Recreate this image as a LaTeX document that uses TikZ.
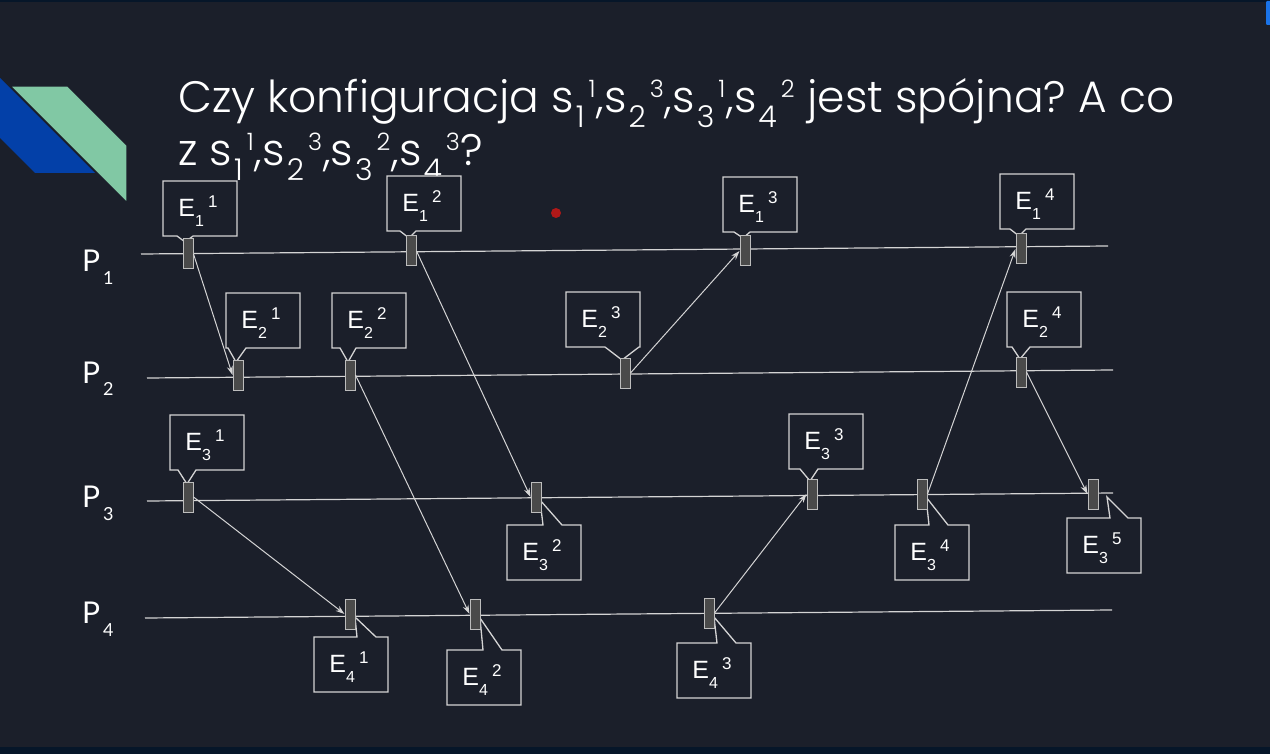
\documentclass[tikz,border=0pt]{standalone}
\usepackage{fontspec}
\setmainfont{Liberation Sans}
\newfontfamily\titlefont{Poppins Light}
\newfontfamily\latofont{Lato}
\usetikzlibrary{arrows.meta,calc}

\definecolor{bgdark}{HTML}{1B1F2A}
\definecolor{stripdark}{HTML}{061629}
\definecolor{accblue}{HTML}{0340A8}
\definecolor{accgreen}{HTML}{81C8A4}
\definecolor{tabblue}{HTML}{1A73E8}
\definecolor{inkline}{HTML}{D4D4D4}
\definecolor{eventfill}{HTML}{4A4A4A}
\definecolor{eventdraw}{HTML}{BDBDBD}
\definecolor{dotred}{HTML}{B01818}

% title indices: large subscript, smaller superscript
\newcommand\tsub[1]{\hspace{2pt}\raisebox{-15pt}{\fontsize{30}{30}\selectfont #1}}
\newcommand\tsup[1]{\hspace{4pt}\raisebox{15pt}{\fontsize{24}{24}\selectfont #1}\hspace{1pt}}
% event label E_i^k
\newcommand\evlab[2]{E\raisebox{-10pt}{\fontsize{16}{16}\selectfont #1}\hspace{4pt}\raisebox{9pt}{\fontsize{17}{17}\selectfont #2}}
% process label P_i
\newcommand\proclab[1]{P\hspace{3pt}\raisebox{-13pt}{\fontsize{18}{18}\selectfont #1}}

\tikzset{
  timeline/.style={draw=inkline, line width=1.2pt},
  event/.style={rectangle, minimum width=10pt, minimum height=30pt, inner sep=0pt,
                fill=eventfill, draw=eventdraw, line width=1pt},
  callout/.style={draw=inkline, line width=1.3pt, fill=bgdark, line join=miter},
  evtext/.style={text=white, font=\fontsize{25}{25}\selectfont, inner sep=0pt},
  proctext/.style={text=white, font=\latofont\fontsize{30}{30}\selectfont, inner sep=0pt, anchor=base west},
  msg/.style={draw=inkline, line width=1pt, -{Stealth[length=9pt,width=6pt]}},
  titletext/.style={text=white, font=\titlefont\fontsize{44}{44}\selectfont\frenchspacing, inner sep=0pt, anchor=base west},
}

% callout hanging above an event: name, left, top, base x1, base x2, tip, sub, sup
\newcommand\calldown[8]{%
  \draw[callout] (#2,#3) -- (#2+74,#3) -- (#2+74,#3+55) -- (#5,#3+55) -- (#6)
     -- (#4,#3+55) -- (#2,#3+55) -- cycle;
  \node[evtext] (#1) at (#2+35,#3+30) {\evlab{#7}{#8}};
}
% callout sitting below an event
\newcommand\callup[8]{%
  \draw[callout] (#2,#3) -- (#4,#3) -- (#6) -- (#5,#3) -- (#2+74,#3)
     -- (#2+74,#3+55) -- (#2,#3+55) -- cycle;
  \node[evtext] (#1) at (#2+35,#3+30) {\evlab{#7}{#8}};
}

\begin{document}
\begin{tikzpicture}[x=1pt,y=-1pt]
  % slide background
  \fill[bgdark] (0,0) rectangle (1270,754);
  \useasboundingbox (0,0) rectangle (1270,754);
  \fill[stripdark] (0,0) rectangle (1270,2);
  \fill[stripdark] (0,747) rectangle (1270,754);
  \fill[tabblue, rounded corners=1pt] (1266,1) rectangle (1271,25);

  % corner accent
  \fill[accblue] (0,78) -- (95,173) -- (35,173) -- (0,138) -- cycle;
  \fill[accgreen, draw=bgdark, line width=1.5pt] (10,86) -- (68,86) -- (127,145) -- (127,203) -- cycle;

  % heading
  \node[titletext] (t1) at (178,113)
    {Czy konfiguracja s\tsub{1}\tsup{1},s\tsub{2}\tsup{3},s\tsub{3}\tsup{1},s\tsub{4}\tsup{2} jest spójna? A co};
  \node[titletext] (t2) at (178,166)
    {z s\tsub{1}\tsup{1},s\tsub{2}\tsup{3},s\tsub{3}\tsup{2},s\tsub{4}\tsup{3}?};

  \fill[dotred] (556,213) circle (5);

  % process labels
  \node[proctext] (P1) at (82,272) {\proclab{1}};
  \node[proctext] (P2) at (82,383) {\proclab{2}};
  \node[proctext] (P3) at (82,507) {\proclab{3}};
  \node[proctext] (P4) at (82,623) {\proclab{4}};

  % time lines
  \coordinate (p1a) at (141,254); \coordinate (p1b) at (1108,246);
  \coordinate (p2a) at (147,378); \coordinate (p2b) at (1113,370);
  \coordinate (p3a) at (147,501); \coordinate (p3b) at (1113,493);
  \coordinate (p4a) at (145,618); \coordinate (p4b) at (1112,610);
  \draw[timeline] (p1a) -- (p1b);
  \draw[timeline] (p2a) -- (p2b);
  \draw[timeline] (p3a) -- (p3b);
  \draw[timeline] (p4a) -- (p4b);

  % callouts
  \calldown{c11}{163}{181}{177}{193}{185,242}{1}{1}
  \calldown{c12}{387}{176}{400}{416}{409,238}{1}{2}
  \calldown{c13}{723}{177}{734}{750}{743,238}{1}{3}
  \calldown{c14}{1000}{174}{1010}{1026}{1019,236}{1}{4}
  \calldown{c21}{226}{293}{228}{246}{236,362}{2}{1}
  \calldown{c22}{332}{293}{340}{356}{348,362}{2}{2}
  \calldown{c23}{566}{292}{605}{639}{622,360}{2}{3}
  \calldown{c24}{1007}{292}{1012}{1030}{1020,359}{2}{4}
  \calldown{c31}{170}{415}{178}{196}{187,484}{3}{1}
  \calldown{c33}{789}{414}{800}{818}{810,481}{3}{3}
  \callup{c32}{507}{525}{543}{562}{540,500}{3}{2}
  \callup{c34}{895}{525}{929}{948}{926,497}{3}{4}
  \callup{c35}{1067}{518}{1110}{1128}{1107,497}{3}{5}
  \callup{c41}{314}{637}{357}{376}{355,617}{4}{1}
  \callup{c42}{447}{650}{483}{502}{480,618}{4}{2}
  \callup{c43}{677}{643}{717}{736}{714,617}{4}{3}

  % events
  \node[event] (e11) at (188,254) {};
  \node[event] (e12) at (411,251) {};
  \node[event] (e13) at (745,251) {};
  \node[event] (e14) at (1021,249) {};
  \node[event] (e21) at (238,375) {};
  \node[event] (e22) at (350,375) {};
  \node[event] (e23) at (625,373) {};
  \node[event] (e24) at (1021,372) {};
  \node[event] (e31) at (188,497) {};
  \node[event] (e32) at (536,497) {};
  \node[event] (e33) at (812,494) {};
  \node[event] (e34) at (922,494) {};
  \node[event] (e35) at (1093,494) {};
  \node[event] (e41) at (350,614) {};
  \node[event] (e42) at (475,614) {};
  \node[event] (e43) at (709,613) {};

  % messages
  \draw[msg] (e11.east) -- (e21.west);
  \draw[msg] (e12.east) -- (e32.west);
  \draw[msg] (e22.east) -- (e42.west);
  \draw[msg] (e23.east) -- (e13.west);
  \draw[msg] (e31.east) -- (e41.west);
  \draw[msg] (e43.east) -- (e33.west);
  \draw[msg] (e34.east) -- (e14.west);
  \draw[msg] (e24.east) -- (e35.west);
\end{tikzpicture}
\end{document}
